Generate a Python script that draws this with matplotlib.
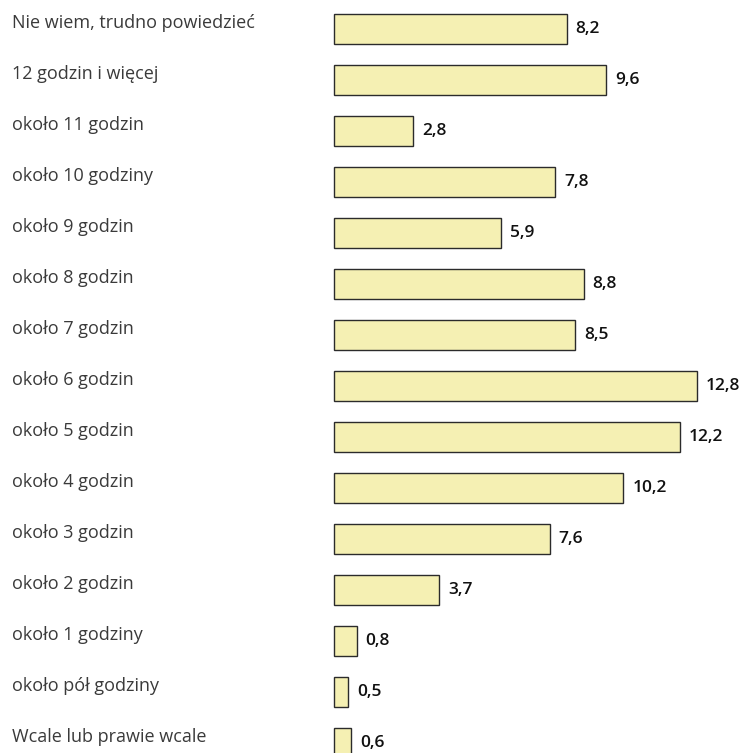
import matplotlib.pyplot as plt
from matplotlib.transforms import blended_transform_factory

categories = [
    "Nie wiem, trudno powiedzieć",
    "12 godzin i więcej",
    "około 11 godzin",
    "około 10 godziny",
    "około 9 godzin",
    "około 8 godzin",
    "około 7 godzin",
    "około 6 godzin",
    "około 5 godzin",
    "około 4 godzin",
    "około 3 godzin",
    "około 2 godzin",
    "około 1 godziny",
    "około pół godziny",
    "Wcale lub prawie wcale",
]
values = [8.2, 9.6, 2.8, 7.8, 5.9, 8.8, 8.5, 12.8, 12.2, 10.2, 7.6, 3.7, 0.8, 0.5, 0.6]

W, H = 744, 753
fig = plt.figure(figsize=(W / 100, H / 100), dpi=100)
# plotting area starts where the bars begin and fills the rest of the figure
ax = fig.add_axes([334 / W, 0, 1 - 334 / W, 1])
ax.set_axis_off()

row = 51.0
ypos = list(range(len(categories)))
ax.barh(ypos, values, height=30 / row, left=0, color="#F5F0B3",
        edgecolor="#2b2b2b", linewidth=1.0, clip_on=False)

ax.set_xlim(0, (W - 334) / 28.36)
ax.set_ylim((H - 29) / row, -29 / row)

lab_tr = blended_transform_factory(fig.transFigure, ax.transData)
for i, (cat, v) in enumerate(zip(categories, values)):
    ax.text(12 / W, i - 6 / row, cat, transform=lab_tr, ha="left", va="center",
            fontsize=13, color="#3a3a3a", family="Open Sans")
    ax.annotate(f"{v:.1f}".replace(".", ","), xy=(v, i), xytext=(6.5, 0),
                textcoords="offset points", ha="left", va="center",
                fontsize=12.5, fontweight="semibold", color="#111111",
                family="Open Sans", annotation_clip=False)

fig.savefig("out.png", dpi=100)
